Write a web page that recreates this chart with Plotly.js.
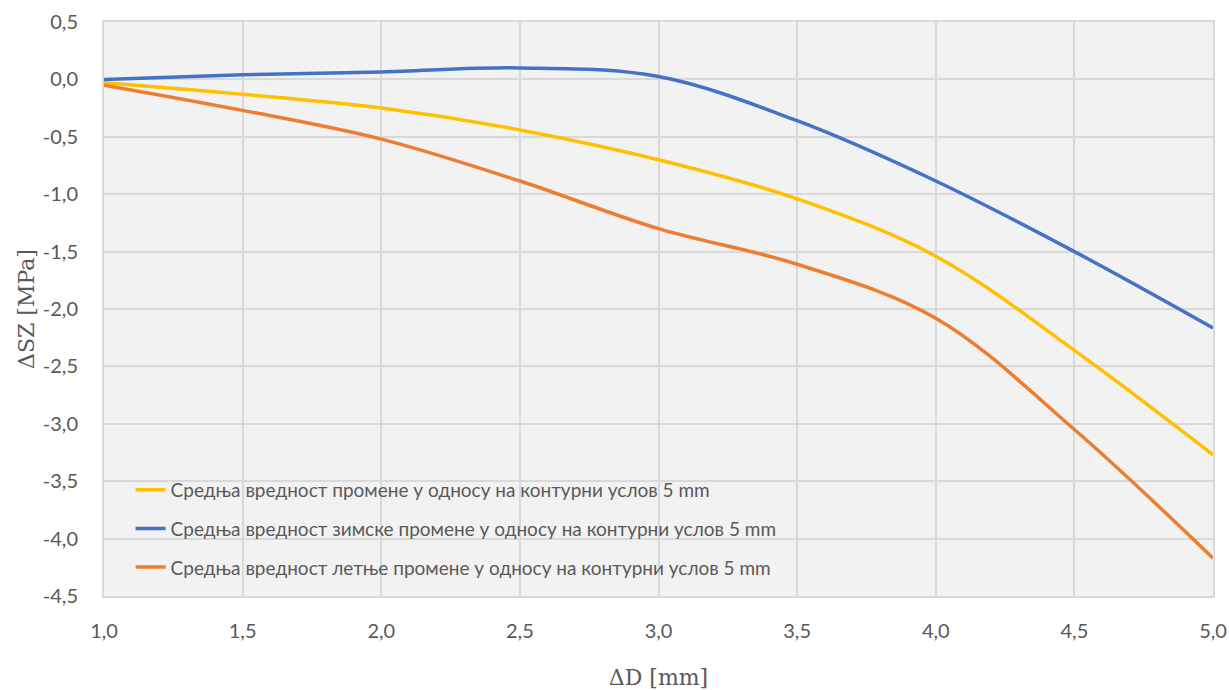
<!DOCTYPE html>
<html>
<head>
<meta charset="utf-8">
<script src="https://cdn.plot.ly/plotly-3.0.1.min.js"></script>
<style>html,body{margin:0;padding:0;background:#fff;}#chart{width:1229px;height:690px;}</style>
</head>
<body>
<div id="chart"></div>
<script>
const xValues = [1.0, 1.5, 2.0, 2.5, 3.0, 3.5, 4.0, 4.5, 5.0];
const meanChange = [-0.03, -0.13, -0.25, -0.44, -0.70, -1.04, -1.54, -2.36, -3.27];
const winterChange = [0.00, 0.04, 0.065, 0.10, 0.025, -0.36, -0.885, -1.50, -2.165];
const summerChange = [-0.05, -0.27, -0.52, -0.885, -1.30, -1.61, -2.08, -3.05, -4.17];
const seriesNames = [
  "Средња вредност промене у односу на контурни услов 5 mm",
  "Средња вредност зимске промене у односу на контурни услов 5 mm",
  "Средња вредност летње промене у односу на контурни услов 5 mm"
];
const seriesColors = ["#FFC000", "#4472C4", "#ED7D31"];
const seriesData = [meanChange, winterChange, summerChange];
const yTickValues = [0.5, 0.0, -0.5, -1.0, -1.5, -2.0, -2.5, -3.0, -3.5, -4.0, -4.5];
const yTickLabels = ["0,5", "0,0", "-0,5", "-1,0", "-1,5", "-2,0", "-2,5", "-3,0", "-3,5", "-4,0", "-4,5"];
const xTickValues = [1.0, 1.5, 2.0, 2.5, 3.0, 3.5, 4.0, 4.5, 5.0];
const xTickLabels = ["1,0", "1,5", "2,0", "2,5", "3,0", "3,5", "4,0", "4,5", "5,0"];

const traces = seriesData.map((ys, i) => ({
  x: xValues, y: ys, name: seriesNames[i], type: "scatter", mode: "lines",
  legendgroup: "g" + i,
  line: {color: seriesColors[i], width: 3.5, shape: "spline", smoothing: 1}
}));

const axisCommon = {
  showgrid: true, gridcolor: "#d9d9d9", gridwidth: 2,
  showline: true, linecolor: "#d9d9d9", linewidth: 2, mirror: true,
  zeroline: false, ticks: "outside", tickcolor: "rgba(0,0,0,0)",
  tickfont: {family: "Lato, 'Open Sans', sans-serif", size: 20, color: "#595959"},
  tickmode: "array"
};

const layout = {
  width: 1229, height: 690,
  margin: {l: 104, r: 16, t: 22, b: 94},
  paper_bgcolor: "#ffffff", plot_bgcolor: "#f2f2f2",
  showlegend: true,
  legend: {
    x: 0.024, y: 0.218, xanchor: "left", yanchor: "top",
    bgcolor: "rgba(0,0,0,0)", tracegroupgap: 11,
    font: {family: "Lato, sans-serif", size: 19, color: "#595959"},
    itemwidth: 30
  },
  xaxis: Object.assign({}, axisCommon, {
    range: [1, 5], ticklen: 16, tickvals: xTickValues, ticktext: xTickLabels,
    title: {text: "ΔD [mm]", standoff: 30, font: {family: "'DejaVu Serif', 'Liberation Serif', serif", size: 22, color: "#595959"}}
  }),
  yaxis: Object.assign({}, axisCommon, {
    range: [-4.5, 0.5], ticklen: 20, tickvals: yTickValues, ticktext: yTickLabels,
    title: {text: "ΔSZ [MPa]", standoff: 2, font: {family: "'DejaVu Serif', 'Liberation Serif', serif", size: 22, color: "#595959"}}
  })
};

Plotly.newPlot("chart", traces, layout, {displayModeBar: false, staticPlot: true});
</script>
</body>
</html>
